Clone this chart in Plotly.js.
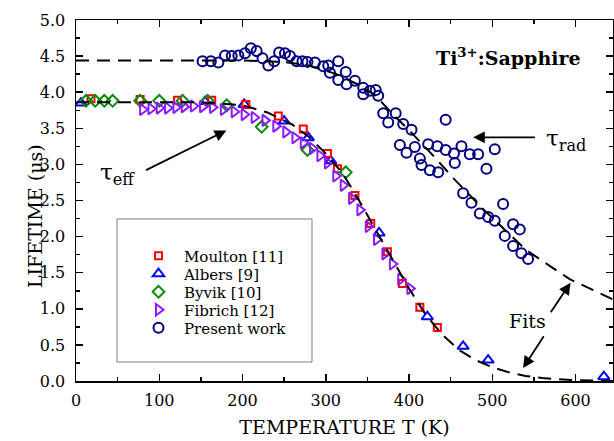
<!DOCTYPE html>
<html>
<head>
<meta charset="utf-8">
<script src="https://cdn.plot.ly/plotly-3.0.1.min.js"></script>
<style>html,body{margin:0;padding:0;background:#fff;}#chart{width:614px;height:441px;}</style>
</head>
<body>
<div id="chart"></div>
<script>
// ---- data ----
var moultonT = [18, 77, 122, 163, 204, 243, 273, 302, 314, 335, 354, 374, 392, 413, 434];
var moultonL = [3.91, 3.90, 3.89, 3.89, 3.83, 3.67, 3.49, 3.15, 2.94, 2.57, 2.18, 1.79, 1.35, 1.02, 0.74];

var albersT = [6, 155, 202, 250, 279, 306, 364, 422, 465, 495, 634];
var albersL = [3.85, 3.87, 3.83, 3.60, 3.37, 3.05, 2.05, 0.89, 0.48, 0.29, 0.06];

var byvikT = [12, 23, 34, 44, 77, 100, 128, 158, 181, 223, 278, 324];
var byvikL = [3.88, 3.88, 3.88, 3.88, 3.88, 3.88, 3.88, 3.88, 3.82, 3.52, 3.20, 2.89];

var fibrichT = [80, 90, 100, 110, 120, 130, 141, 152, 164, 177, 190, 202, 214, 227, 240, 252, 263, 273, 284, 293, 302, 312, 321, 331, 341, 351, 361, 371, 380, 390, 401];
var fibrichL = [3.76, 3.77, 3.78, 3.78, 3.79, 3.80, 3.81, 3.80, 3.79, 3.76, 3.73, 3.69, 3.65, 3.61, 3.53, 3.45, 3.37, 3.30, 3.22, 3.12, 3.02, 2.84, 2.71, 2.53, 2.37, 2.14, 1.96, 1.76, 1.62, 1.41, 1.28];

var presentT = [152, 162, 171, 179, 187, 195, 203, 210, 217, 224, 231, 238, 244, 251, 257, 265, 272, 278, 287, 297, 303, 315, 305, 315, 324, 325, 335, 345, 345, 353, 360, 363, 369, 375, 384, 393, 403, 389, 397, 407, 413, 415, 425, 435, 423, 434, 444, 454, 455, 463, 473, 483, 493, 503, 444, 465, 475, 485, 495, 503, 513, 515, 525, 533, 525, 535, 543];
var presentL = [4.43, 4.43, 4.41, 4.51, 4.50, 4.51, 4.54, 4.61, 4.57, 4.47, 4.37, 4.43, 4.55, 4.54, 4.50, 4.43, 4.43, 4.42, 4.41, 4.36, 4.37, 4.43, 4.27, 4.17, 4.28, 4.11, 4.16, 4.06, 3.97, 4.02, 4.03, 3.95, 3.71, 3.58, 3.71, 3.56, 3.48, 3.27, 3.16, 3.24, 3.08, 2.99, 2.92, 2.89, 3.28, 3.25, 3.20, 3.15, 3.02, 3.25, 3.14, 3.14, 2.94, 3.21, 3.62, 2.60, 2.47, 2.32, 2.27, 2.22, 2.45, 2.01, 2.17, 2.10, 1.87, 1.77, 1.69];

var radFitT = [0, 100, 200, 250, 280, 313, 340, 360, 380, 402, 430, 454, 490, 540, 593, 645];
var radFitL = [4.44, 4.44, 4.44, 4.42, 4.37, 4.25, 4.10, 3.95, 3.70, 3.45, 3.11, 2.80, 2.37, 1.82, 1.41, 1.13];

var effFitT = [0, 100, 150, 200, 230, 260, 280, 300, 320, 340, 360, 380, 400, 420, 440, 460, 480, 500, 520, 540, 560, 600, 645];
var effFitL = [3.86, 3.86, 3.86, 3.82, 3.72, 3.55, 3.38, 3.15, 2.88, 2.50, 2.10, 1.68, 1.28, 0.92, 0.64, 0.43, 0.29, 0.19, 0.12, 0.07, 0.04, 0.01, 0.0];

var FONT = 'DejaVu Serif, Liberation Serif, serif';

function pts(name, xs, ys, symbol, color, size, leg) {
  return {
    type: 'scatter', mode: 'markers', name: name, x: xs, y: ys,
    legend: leg,
    marker: {symbol: symbol, size: size, color: color, line: {color: color, width: 2}}
  };
}

var traces = [
  pts('Albers [9]', albersT, albersL, 'triangle-up-open', '#0000ff', 10, 'legend2'),
  pts('Moulton [11]', moultonT, moultonL, 'square-open', '#ff0000', 7, 'legend'),
  pts('Byvik [10]', byvikT, byvikL, 'diamond-open', '#0a8a0a', 9, 'legend3'),
  pts('Fibrich [12]', fibrichT, fibrichL, 'triangle-right-open', '#8a1cff', 10, 'legend4'),
  pts('Present work', presentT, presentL, 'circle-open', '#000080', 10, 'legend5'),
  {type: 'scatter', mode: 'lines', x: radFitT, y: radFitL, showlegend: false, hoverinfo: 'skip',
   line: {color: '#000', width: 2, dash: '13px,8px'}},
  {type: 'scatter', mode: 'lines', x: effFitT, y: effFitL, showlegend: false, hoverinfo: 'skip',
   line: {color: '#000', width: 2, dash: '13px,8px'}}
];

function arrow(hx, hy, tx, ty) {
  return {x: hx, y: hy, ax: tx, ay: ty, xref: 'x', yref: 'y', axref: 'x', ayref: 'y',
          text: '', showarrow: true, arrowhead: 2, arrowsize: 1.3, arrowwidth: 1.8, arrowcolor: '#000',
          standoff: 0, startstandoff: 0};
}
function label(x, y, txt, size, extra) {
  var a = {x: x, y: y, xref: 'x', yref: 'y', text: txt, showarrow: false,
           font: {family: FONT, size: size, color: '#000'}};
  for (var k in extra) a[k] = extra[k];
  return a;
}
// legend row centres (pixels from top of figure) -> paper coords
function leg(pxY) {
  return {x: (133 - 76) / 537, xanchor: 'left', y: (381 - pxY) / 361, yanchor: 'middle',
          bgcolor: 'rgba(0,0,0,0)', borderwidth: 0, itemwidth: 41,
          font: {family: FONT, size: 15, color: '#000'}};
}

var layout = {
  width: 614, height: 441,
  margin: {l: 76, r: 1, t: 20, b: 60},
  paper_bgcolor: '#fff', plot_bgcolor: '#fff',
  font: {family: FONT, size: 16, color: '#000'},
  showlegend: true,
  legend: leg(256), legend2: leg(274), legend3: leg(292), legend4: leg(310), legend5: leg(328),
  xaxis: {
    range: [0, 645], showline: true, linecolor: '#000', linewidth: 1.5, mirror: 'ticks',
    ticks: 'inside', ticklen: 7, tickwidth: 1.5, tickcolor: '#000', dtick: 100, tick0: 0,
    minor: {ticks: 'inside', dtick: 50, ticklen: 4, tickwidth: 1.5, tickcolor: '#000'},
    showgrid: false, zeroline: false, tickfont: {family: FONT, size: 16, color: '#000'},
    ticklabelstandoff: 4,
    title: {text: 'TEMPERATURE T (K)', font: {family: FONT, size: 19, color: '#000'}, standoff: 12}
  },
  yaxis: {
    range: [0, 5], showline: true, linecolor: '#000', linewidth: 1.5, mirror: 'ticks',
    ticks: 'inside', ticklen: 7, tickwidth: 1.5, tickcolor: '#000', dtick: 0.5, tick0: 0,
    tickformat: '.1f',
    minor: {ticks: 'inside', dtick: 0.25, ticklen: 4, tickwidth: 1.5, tickcolor: '#000'},
    showgrid: false, zeroline: false, tickfont: {family: FONT, size: 16, color: '#000'},
    ticklabelstandoff: 6
  },
  shapes: [
    {type: 'rect', xref: 'paper', yref: 'paper', x0: 0.0764, x1: 0.4395, y0: 0.0526, y1: 0.4488,
     line: {color: '#808080', width: 1}, fillcolor: 'rgba(0,0,0,0)', layer: 'below'}
  ],
  annotations: [
    {xref: 'paper', yref: 'y', x: -0.1006, y: 2.285, text: 'LIFETIME (μs)', textangle: -90,
     showarrow: false, font: {family: FONT, size: 19, color: '#000'}},
    label(519, 4.49, '<b>Ti<sup>3+</sup>:Sapphire</b>', 19),
    label(589, 3.34, 'τ<sub>rad</sub>', 23),
    label(50, 2.87, 'τ<sub>eff</sub>', 23),
    label(542.5, 0.83, 'Fits', 19),
    arrow(477, 3.375, 553, 3.375),
    arrow(180.6, 3.47, 82.3, 2.91),
    arrow(594, 1.36, 569, 0.93),
    arrow(537, 0.18, 563, 0.64)
  ]
};

Plotly.newPlot('chart', traces, layout, {displayModeBar: false, staticPlot: true});
</script>
</body>
</html>
